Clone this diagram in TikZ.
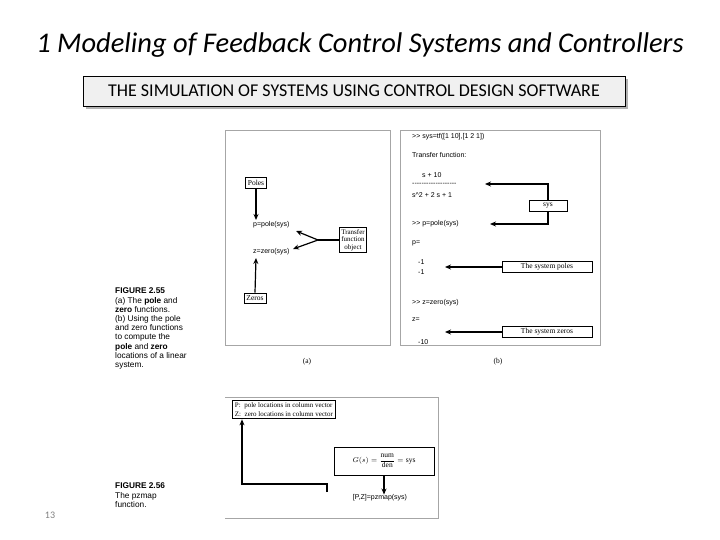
\documentclass[tikz,border=0pt]{standalone}
\usepackage{amsmath}
\usepackage{fontspec}
\setmainfont{Liberation Serif}
\newfontfamily\calfont{Carlito}
\newfontfamily\arfont{Liberation Sans}
\usetikzlibrary{arrows.meta}
\begin{document}
\begin{tikzpicture}[x=1pt,y=-1pt,
  lbl/.style={draw, line width=0.9pt, inner sep=2.5pt, font=\fontsize{7.5}{8}\selectfont},
  code/.style={anchor=west, inner sep=0pt, font=\arfont\fontsize{7}{8}\selectfont},
  figcap/.style={anchor=north west, inner sep=0pt, align=left, font=\arfont\fontsize{8.3}{9.2}\selectfont},
  arr/.style={-{Stealth[length=6pt,width=5pt]}, line width=1.2pt},
  panel/.style={draw=gray!70, line width=0.6pt}]
\useasboundingbox (0,0) rectangle (720,540);
\node (title) at (360,45) {\calfont\itshape\fontsize{28.5}{32}\selectfont 1 Modeling of Feedback Control Systems and Controllers};
\fill[gray!60] (86,79) rectangle (628,109);
\node[draw, fill=gray!12, minimum width=542pt, minimum height=30pt, font=\calfont\fontsize{18}{20}\selectfont] (hdr) at (354,91) {THE SIMULATION OF SYSTEMS USING CONTROL DESIGN SOFTWARE};
% panel a
\draw[panel] (225,130) rectangle (390,345);
\node[font=\fontsize{7.5}{8}\selectfont] (la) at (307,362) {(a)};
\node[lbl] (poles) at (256,183) {Poles};
\node[code] (p) at (253,225) {p=pole(sys)};
\node[code] (z) at (253,252) {z=zero(sys)};
\node[lbl, align=center, font=\fontsize{7}{7.5}\selectfont, inner sep=1.5pt] (tfo) at (353,240) {Transfer\\function\\object};
\node[lbl] (zeros) at (255,298) {Zeros};
\coordinate (tj) at (318,240);
\draw[line width=1.3pt] (tfo.west) -- (tj);
\draw[arr] (poles.south) -- (256,220);
\draw[arr] (zeros.north) -- (256,258);
\draw[arr] (tj) -- (296,231);
\draw[arr] (tj) -- (293,249);
\node[figcap] (f55) at (115,288) {\textbf{FIGURE 2.55}\\(a) The \textbf{pole} and\\\textbf{zero} functions.\\(b) Using the pole\\and zero functions\\to compute the\\\textbf{pole} and \textbf{zero}\\locations of a linear\\system.};
% panel b
\draw[panel] (400,130) rectangle (600,345);
\node[font=\fontsize{7.5}{8}\selectfont] (lb) at (498,362) {(b)};
\node[code] (c1) at (412,137) {>> sys=tf([1 10],[1 2 1])};
\node[code] (c2) at (412,155) {Transfer function:};
\node[code] (c3) at (422,175) {s + 10};
\node[code] (c4) at (412,184) {-------------------};
\node[code] (c5) at (412,195) {s\^{}2 + 2 s + 1};
\node[lbl, minimum width=38pt] (sys) at (548,206) {sys};
\node[code] (c6) at (412,224) {>> p=pole(sys)};
\node[code] (c7) at (412,243) {p=};
\node[code] (c8) at (418,262) {-1};
\node[code] (c9) at (418,272) {-1};
\node[lbl, minimum width=90pt] (sp) at (547,267) {The system poles};
\node[code] (c10) at (412,303) {>> z=zero(sys)};
\node[code] (c11) at (412,320) {z=};
\node[lbl, minimum width=90pt] (sz) at (547,332) {The system zeros};
\node[code] (c12) at (418,342) {-10};
\draw[arr] (sys.north) |- (485,184);
\draw[arr] (sys.south) |- (490,224);
\draw[arr] (sp.west) -- (445,267);
\draw[arr] (sz.west) -- (445,332);
% figure 2.56
\draw[panel] (225,397) -- (438,397) -- (438,518) -- (225,518);
\node[lbl, align=left, anchor=north west, font=\fontsize{7}{8.5}\selectfont] (pz) at (232,400) {P:\ \ pole locations in column vector\\Z:\ \ zero locations in column vector};
\node[lbl, minimum width=100pt, minimum height=28pt, font=\fontsize{7.5}{8}\selectfont] (g) at (384,461) {$G(s)=\dfrac{\mathrm{num}}{\mathrm{den}}=\mathrm{sys}$};
\node[code, anchor=center] (pzm) at (380,498) {[P,Z]=pzmap(sys)};
\coordinate (pzs) at (327,492);
\draw[arr] (g.south) -- (pzm.north -| g.south);
\draw[arr] (pzs) -- (327,484) -- (242,484) -- (pz.south -| 242,0);
\node[figcap] (f56) at (115,483) {\textbf{FIGURE 2.56}\\The pzmap\\function.};
\node[text=gray, font=\calfont\fontsize{10}{12}\selectfont] (pg) at (50,515) {13};
\end{tikzpicture}
\end{document}
